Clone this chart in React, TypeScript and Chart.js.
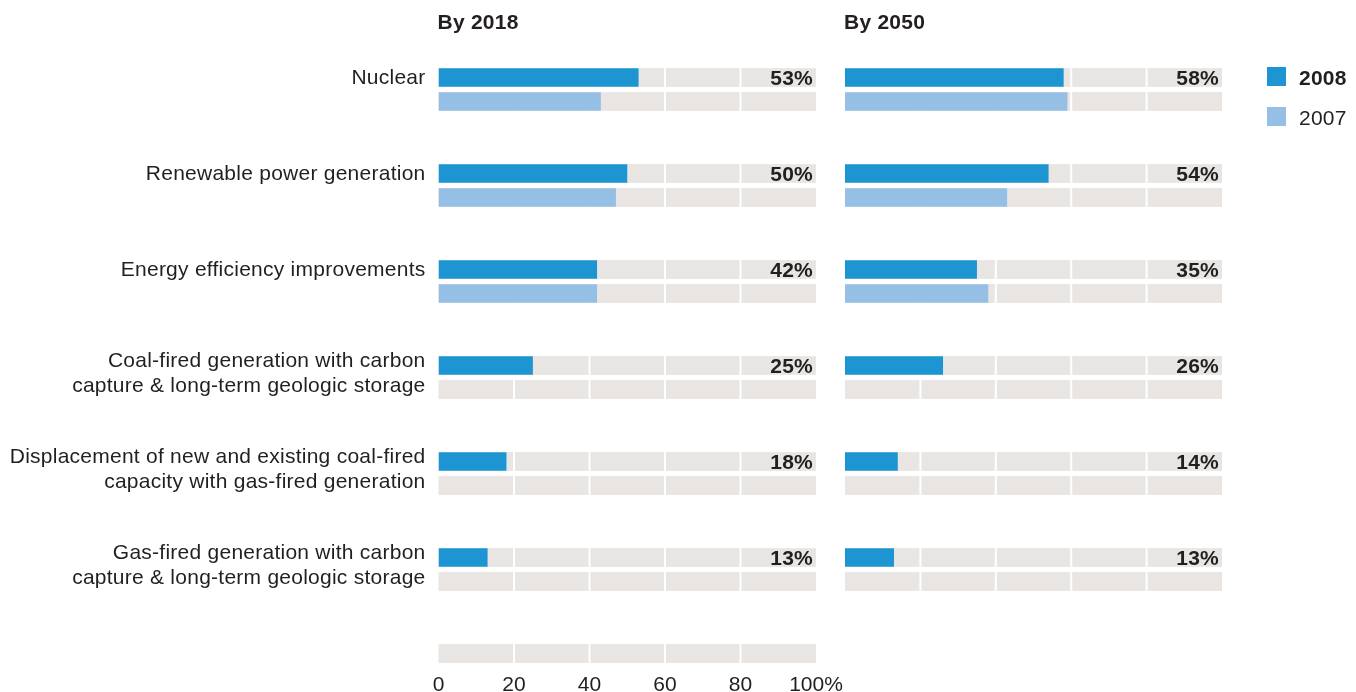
import React, { useEffect, useRef } from "react";
import { Chart, registerables } from "chart.js";

Chart.register(...registerables);

// ---------- data ----------
const categories: string[][] = [
  ["Nuclear"],
  ["Renewable power generation"],
  ["Energy efficiency improvements"],
  ["Coal-fired generation with carbon", "capture & long-term geologic storage"],
  ["Displacement of new and existing coal-fired", "capacity with gas-fired generation"],
  ["Gas-fired generation with carbon", "capture & long-term geologic storage"],
];
const seriesNames = ["2008", "2007"];
const by2018Series2008 = [53, 50, 42, 25, 18, 13];
const by2018Series2007: (number | null)[] = [43, 47, 42, null, null, null];
const by2050Series2008 = [58, 54, 35, 26, 14, 13];
const by2050Series2007: (number | null)[] = [59, 43, 38, null, null, null];
const panelTitles = ["By 2018", "By 2050"];
const xTickValues = [0, 20, 40, 60, 80, 100];
const xTickLabels = ["0", "20", "40", "60", "80", "100%"];
const gridValues = [20, 40, 60, 80];

// ---------- styles ----------
const DARK = "#1d95d3";
const LIGHT = "#96bfe6";
const GRAY = "#e9e5e2";
const TEXT = "#231f20";
const FONT = "'Liberation Sans', Arial, Helvetica, sans-serif";
const FS = 21;
const LS = "0.25px";
const W = 1356;
const H = 692;

const decoPlugin = {
  id: "panelDeco",
  beforeDatasetsDraw(chart: any, _args: any, opts: any) {
    const ctx = chart.ctx;
    const xs = chart.scales.x;
    const ys = chart.scales.y;
    const x0 = xs.getPixelForValue(0);
    const x100 = xs.getPixelForValue(100);
    const rows: { y: number; h: number }[] = [];
    chart.data.datasets.forEach((_ds: any, di: number) => {
      chart.getDatasetMeta(di).data.forEach((el: any) => rows.push({ y: el.y, h: el.height }));
    });
    if (opts.extraRow) {
      const m = chart.getDatasetMeta(0).data;
      const last = m[m.length - 1];
      const step = ys.getPixelForValue(1) - ys.getPixelForValue(0);
      rows.push({ y: last.y + step, h: last.height });
    }
    ctx.save();
    ctx.fillStyle = GRAY;
    rows.forEach((r) => ctx.fillRect(x0, r.y - r.h / 2, x100 - x0, r.h));
    ctx.fillStyle = "#ffffff";
    gridValues.forEach((v) => {
      const px = xs.getPixelForValue(v);
      rows.forEach((r) => ctx.fillRect(px - 1, r.y - r.h / 2, 2, r.h));
    });
    ctx.restore();
  },
  afterDatasetsDraw(chart: any) {
    const ctx = chart.ctx;
    const xs = chart.scales.x;
    const x100 = xs.getPixelForValue(100);
    const meta = chart.getDatasetMeta(0);
    const vals = chart.data.datasets[0].data;
    ctx.save();
    ctx.font = `bold ${FS}px ${FONT}`;
    (ctx as any).letterSpacing = LS;
    ctx.fillStyle = TEXT;
    ctx.textAlign = "right";
    ctx.textBaseline = "alphabetic";
    meta.data.forEach((el: any, i: number) => {
      if (vals[i] == null) return;
      ctx.fillText(`${vals[i]}%`, x100 - 3, el.y + 7);
    });
    ctx.restore();
  },
  afterDraw(chart: any, _args: any, opts: any) {
    const ctx = chart.ctx;
    const area = chart.chartArea;
    ctx.save();
    (ctx as any).letterSpacing = LS;
    ctx.fillStyle = TEXT;
    // panel title
    ctx.font = `bold ${FS}px ${FONT}`;
    ctx.textAlign = "left";
    ctx.textBaseline = "alphabetic";
    ctx.fillText(opts.title, area.left - 1, 28.5);
    // category labels
    if (opts.showCategories) {
      ctx.font = `${FS}px ${FONT}`;
      ctx.textAlign = "right";
      const meta = chart.getDatasetMeta(0);
      chart.data.labels.forEach((lab: string[], i: number) => {
        const el = meta.data[i];
        const lines = Array.isArray(lab) ? lab : [lab];
        const base = el.y + (lines.length === 1 ? 6.5 : 1.5);
        lines.forEach((ln, j) => ctx.fillText(ln, area.left - 13, base + j * 25));
      });
    }
    // legend
    if (opts.showLegend) {
      chart.data.datasets.forEach((ds: any, i: number) => {
        const top = 67 + 40 * i;
        ctx.fillStyle = ds.backgroundColor;
        ctx.fillRect(1267, top, 19, 19);
        ctx.fillStyle = TEXT;
        ctx.font = `${i === 0 ? "bold " : ""}${FS}px ${FONT}`;
        ctx.textAlign = "left";
        ctx.fillText(ds.label, 1299, top + 18);
      });
    }
    ctx.restore();
  },
};

function makeConfig(
  title: string,
  d2008: (number | null)[],
  d2007: (number | null)[],
  left: boolean
): any {
  return {
    type: "bar",
    data: {
      labels: categories,
      datasets: [
        { label: seriesNames[0], data: d2008, backgroundColor: DARK },
        { label: seriesNames[1], data: d2007, backgroundColor: LIGHT },
      ],
    },
    plugins: [decoPlugin],
    options: {
      indexAxis: "y",
      responsive: false,
      maintainAspectRatio: false,
      animation: false,
      categoryPercentage: 0.5,
      barPercentage: 0.78,
      layout: {
        padding: left
          ? { left: 438.5, right: W - 816, top: 41.5, bottom: 0 }
          : { left: 845, right: W - 1222, top: 41.5, bottom: 0 },
      },
      scales: {
        y: { type: "category", display: false, offset: true },
        x: {
          type: "linear",
          min: 0,
          max: 100,
          display: left,
          position: "bottom",
          grid: { display: false, drawTicks: false },
          border: { display: false },
          afterBuildTicks: (s: any) => {
            s.ticks = xTickValues.map((v) => ({ value: v }));
          },
          afterFit: (s: any) => {
            s.height = 74.5;
            s.paddingLeft = 0;
            s.paddingRight = 0;
          },
          ticks: {
            autoSkip: false,
            maxRotation: 0,
            padding: 55,
            color: TEXT,
            font: { family: FONT, size: FS },
            callback: (_v: any, i: number) => xTickLabels[i],
          },
        },
      },
      plugins: {
        legend: { display: false },
        tooltip: { enabled: false },
        title: { display: false },
        panelDeco: {
          title,
          extraRow: left,
          showCategories: left,
          showLegend: !left,
        },
      },
    },
  };
}

export default function App() {
  const leftRef = useRef<HTMLCanvasElement>(null);
  const rightRef = useRef<HTMLCanvasElement>(null);

  useEffect(() => {
    const c1 = new Chart(leftRef.current!, makeConfig(panelTitles[0], by2018Series2008, by2018Series2007, true));
    const c2 = new Chart(rightRef.current!, makeConfig(panelTitles[1], by2050Series2008, by2050Series2007, false));
    return () => {
      c1.destroy();
      c2.destroy();
    };
  }, []);

  const cs: React.CSSProperties = { position: "absolute", left: 0, top: 0, width: W, height: H };
  return (
    <div style={{ position: "absolute", left: 0, top: 0, width: W, height: H, background: "#fff", overflow: "hidden" }}>
      <canvas ref={leftRef} width={W} height={H} style={cs} />
      <canvas ref={rightRef} width={W} height={H} style={cs} />
    </div>
  );
}
